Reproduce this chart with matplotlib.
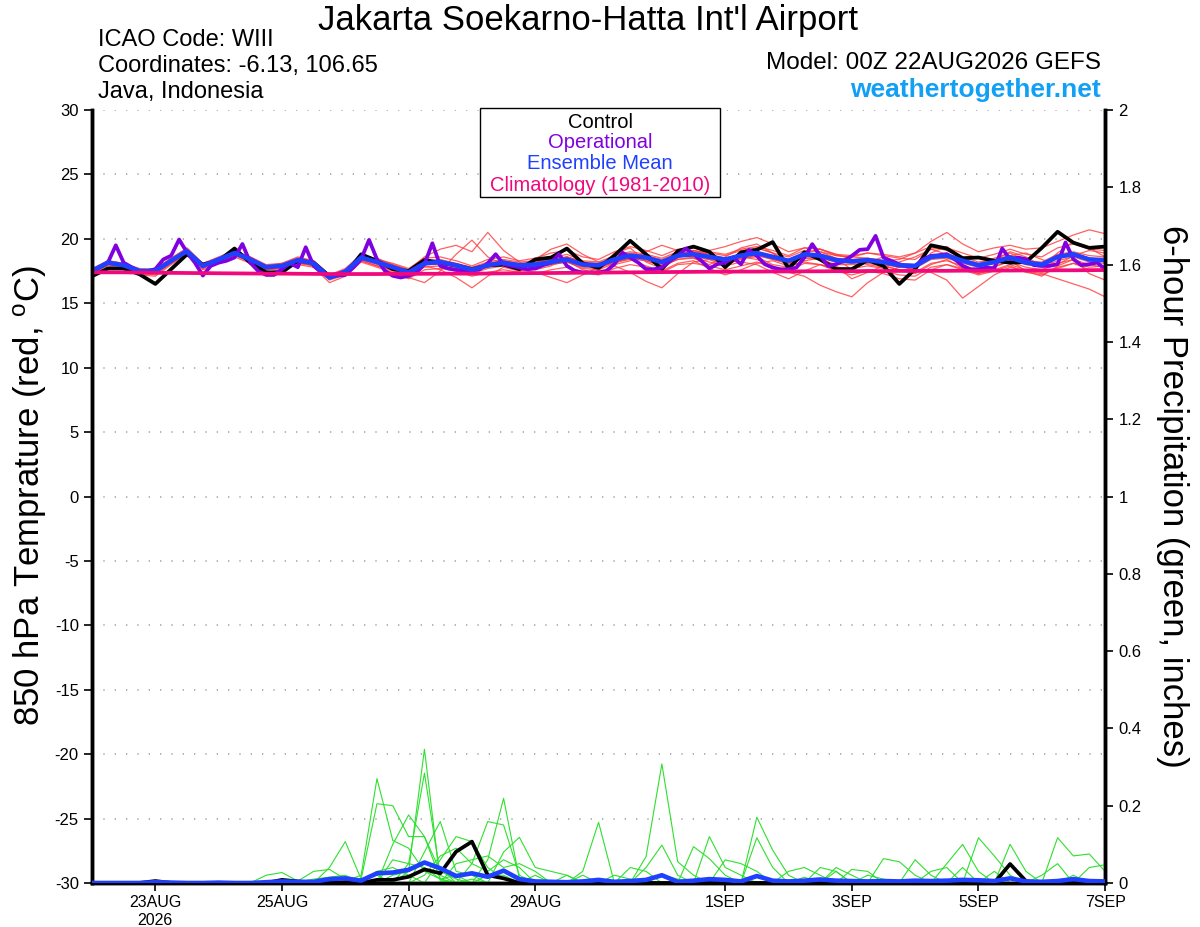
import matplotlib
matplotlib.use("Agg")
import matplotlib.pyplot as plt
from matplotlib.patches import Rectangle
from matplotlib.ticker import FuncFormatter
import numpy as np
import pandas as pd

plt.rcParams['font.family'] = ['Liberation Sans', 'DejaVu Sans']
plt.rcParams['mathtext.fontset'] = 'custom'
plt.rcParams['mathtext.rm'] = 'Liberation Sans'
plt.rcParams['mathtext.it'] = 'Liberation Sans'
plt.rcParams['axes.unicode_minus'] = False

# 6-hourly GEFS output, 22AUG2026 00Z -> 7SEP2026 00Z
times = pd.date_range('2026-08-22 00:00', periods=65, freq='6h')
# operational run is 3-hourly
op_times = pd.date_range('2026-08-22 00:00', periods=129, freq='3h')

tick_dates = ['2026-08-23', '2026-08-25', '2026-08-27', '2026-08-29',
              '2026-09-01', '2026-09-03', '2026-09-05', '2026-09-07']
tick_labels = ['23AUG\n2026', '25AUG', '27AUG', '29AUG',
               '1SEP', '3SEP', '5SEP', '7SEP']

# 850 hPa temperature (C)
control_t = [17.1, 17.7, 17.7, 17.25, 16.5, 17.65, 18.8, 18.0, 18.3, 19.25, 18.15, 17.4, 17.4,
             18.3, 18.15, 17.1, 17.25, 18.8, 18.3, 17.65, 17.5, 18.35, 18.15, 17.95, 17.65, 17.95,
             18.0, 17.65, 18.4, 18.55, 19.25, 18.1, 17.75, 18.7, 19.85, 18.8, 17.65, 19.05, 19.4,
             19.0, 17.8, 18.95, 19.15, 19.75, 17.7, 18.95, 18.4, 17.65, 17.65, 18.35, 17.9, 16.5,
             17.65, 19.5, 19.25, 18.5, 18.55, 18.3, 18.15, 18.2, 19.3, 20.55, 19.7, 19.3, 19.4]

mean_t = [17.5, 18.15, 17.95, 17.5, 17.5, 18.3, 19.05, 17.9, 18.4, 18.9, 18.4, 17.8, 17.9,
          18.35, 18.1, 17.0, 17.45, 18.55, 18.2, 17.8, 17.4, 18.1, 18.2, 17.95, 17.6, 17.95,
          18.15, 17.95, 18.0, 18.2, 18.4, 18.0, 17.95, 18.4, 18.7, 18.55, 18.2, 18.7, 18.8,
          18.6, 18.4, 18.7, 18.9, 18.6, 18.3, 18.8, 18.7, 18.35, 18.25, 18.35, 18.2, 17.95,
          17.9, 18.6, 18.7, 18.3, 17.95, 18.2, 18.55, 18.15, 18.0, 18.6, 18.8, 18.4, 18.35]

clim_t = [17.4, 17.4, 17.4, 17.38, 17.37, 17.36, 17.35, 17.34, 17.33, 17.32, 17.31, 17.3, 17.3,
          17.29, 17.28, 17.27, 17.27, 17.27, 17.27, 17.28, 17.28, 17.29, 17.29, 17.3, 17.3, 17.31,
          17.32, 17.33, 17.34, 17.35, 17.36, 17.37, 17.38, 17.39, 17.4, 17.41, 17.42, 17.43, 17.44,
          17.45, 17.45, 17.46, 17.46, 17.47, 17.47, 17.48, 17.48, 17.49, 17.49, 17.5, 17.5, 17.51,
          17.51, 17.52, 17.52, 17.53, 17.53, 17.54, 17.54, 17.55, 17.55, 17.56, 17.56, 17.57, 17.58]

oper_t = [17.4, 17.8, 18.15, 19.5, 18.15, 17.8, 17.5, 17.5, 17.65, 18.4, 18.7, 19.95, 18.95,
          18.15, 17.15, 17.9, 18.15, 18.3, 18.55, 19.6, 18.15, 17.5, 17.2, 17.2, 17.65, 18.1,
          17.8, 19.35, 17.9, 17.4, 17.0, 17.15, 17.2, 17.77, 18.42, 19.92, 18.42, 17.52, 17.13,
          17.0, 17.13, 17.39, 18.03, 19.66, 17.9, 17.7, 17.59, 17.52, 17.52, 17.64, 18.11, 18.81,
          18.03, 17.9, 17.77, 17.64, 17.7, 17.96, 18.16, 18.81, 17.9, 17.52, 17.39, 17.39, 17.39,
          17.52, 18.03, 18.94, 18.55, 18.16, 17.64, 17.64, 17.77, 18.29, 18.68, 19.25, 18.81, 18.29,
          17.7, 18.03, 18.16, 18.55, 18.03, 19.15, 18.68, 18.03, 17.77, 17.64, 17.64, 17.77, 18.55,
          19.59, 18.68, 17.9, 18.03, 18.29, 18.68, 19.15, 19.2, 20.23, 18.55, 18.29, 18.03, 17.85,
          17.9, 18.42, 18.68, 18.73, 18.81, 18.42, 17.9, 17.64, 17.64, 17.77, 17.7, 19.25, 18.42,
          18.55, 18.42, 17.96, 17.9, 17.9, 18.03, 19.72, 18.42, 17.96, 18.03, 18.16, 17.64]

members_t = [
    [17.6, 18.3, 18.1, 17.6, 17.7, 18.5, 19.3, 18.1, 18.6, 19.1, 18.6, 17.9, 18.1,
     18.6, 18.3, 17.2, 17.7, 18.8, 18.4, 18.1, 17.7, 18.5, 18.6, 18.3, 17.9, 18.4,
     18.6, 18.3, 18.5, 18.9, 19.1, 18.6, 18.4, 19.0, 19.4, 19.1, 18.7, 19.2, 19.3,
     19.0, 18.8, 19.2, 19.4, 19.1, 18.7, 19.3, 19.2, 18.8, 18.7, 18.9, 18.7, 18.5,
     18.4, 19.2, 19.3, 18.9, 18.5, 18.8, 19.2, 18.8, 18.6, 19.3, 19.6, 19.2, 19.1],
    [17.3, 17.9, 17.7, 17.2, 17.1, 18.0, 18.8, 17.6, 18.1, 18.6, 18.1, 17.4, 17.6,
     18.0, 17.8, 16.6, 17.1, 18.2, 17.8, 17.4, 16.9, 17.6, 17.7, 17.5, 17.1, 17.4,
     17.6, 17.4, 17.3, 17.6, 17.8, 17.4, 17.2, 17.7, 18.0, 17.8, 17.4, 18.0, 18.1,
     17.9, 17.6, 17.9, 18.2, 17.8, 17.5, 18.1, 18.0, 17.6, 17.4, 17.6, 17.5, 17.2,
     17.1, 17.8, 18.0, 17.6, 17.2, 17.5, 17.9, 17.4, 17.2, 17.8, 18.1, 17.6, 17.5],
    [17.5, 18.0, 18.0, 17.4, 17.4, 18.2, 19.0, 17.8, 18.3, 18.8, 18.3, 17.7, 17.8,
     18.2, 18.0, 17.0, 17.3, 18.4, 18.5, 18.0, 17.6, 18.6, 19.2, 19.5, 19.0, 20.5,
     19.1, 18.2, 17.6, 17.9, 18.6, 18.2, 17.5, 18.9, 19.3, 18.2, 17.7, 18.5, 19.1,
     18.8, 18.1, 18.4, 19.3, 18.9, 18.0, 18.6, 19.0, 18.5, 17.6, 18.2, 18.6, 17.9,
     17.6, 18.9, 19.4, 18.5, 17.8, 18.3, 19.0, 18.6, 17.9, 18.9, 19.8, 19.3, 18.6],
    [17.4, 18.1, 17.9, 17.4, 17.3, 18.1, 18.9, 17.7, 18.3, 18.8, 18.2, 17.6, 17.7,
     18.1, 18.0, 16.9, 17.4, 18.3, 17.9, 17.5, 17.2, 17.9, 17.6, 17.0, 16.2, 17.1,
     17.8, 17.5, 17.8, 18.1, 18.3, 17.6, 17.3, 17.9, 17.4, 16.7, 16.2, 17.3, 18.2,
     18.4, 17.9, 18.5, 18.6, 18.0, 17.8, 18.3, 18.5, 17.9, 16.9, 17.4, 17.9, 17.6,
     17.3, 18.0, 18.4, 17.7, 17.3, 17.8, 18.3, 17.5, 17.1, 17.9, 18.4, 17.3, 16.8],
    [17.6, 18.2, 18.0, 17.6, 17.6, 18.4, 19.2, 18.0, 18.5, 19.0, 18.5, 17.9, 18.0,
     18.5, 18.2, 17.1, 17.6, 18.7, 18.3, 17.9, 17.5, 18.2, 18.3, 18.0, 17.7, 18.0,
     18.3, 18.1, 18.2, 18.4, 18.6, 18.2, 18.1, 18.6, 18.9, 18.7, 18.4, 18.9, 19.0,
     18.7, 18.5, 18.6, 18.4, 17.9, 17.4, 17.1, 16.4, 15.9, 15.5, 16.6, 17.4, 17.8,
     18.0, 18.7, 18.9, 18.4, 18.1, 18.5, 18.9, 18.3, 18.1, 18.6, 18.9, 18.5, 18.4],
    [17.5, 18.2, 17.8, 17.5, 17.5, 18.2, 19.1, 17.9, 18.4, 18.9, 18.5, 17.8, 17.9,
     18.3, 18.2, 17.0, 17.5, 18.6, 18.1, 17.8, 17.3, 18.0, 18.1, 17.8, 17.5, 17.8,
     18.0, 17.9, 18.1, 18.2, 18.5, 17.9, 17.8, 18.3, 18.6, 18.4, 18.0, 18.6, 18.7,
     18.5, 18.2, 18.6, 18.8, 18.4, 18.1, 18.5, 18.4, 18.0, 18.0, 18.1, 17.9, 17.6,
     17.5, 17.4, 16.8, 15.4, 16.3, 17.2, 17.8, 17.5, 17.3, 16.9, 16.5, 16.1, 15.5],
    [17.7, 18.3, 18.1, 17.7, 17.6, 18.5, 19.2, 18.1, 18.5, 19.0, 18.6, 18.0, 18.1,
     18.5, 18.3, 17.2, 17.6, 18.7, 18.4, 18.0, 17.6, 18.3, 18.4, 18.1, 17.8, 18.2,
     18.4, 18.2, 18.3, 18.5, 18.8, 18.3, 18.2, 18.7, 19.0, 18.8, 18.5, 19.0, 19.1,
     18.9, 18.7, 19.1, 19.3, 18.9, 18.6, 19.1, 19.0, 18.7, 18.6, 18.9, 18.8, 18.6,
     18.9, 19.8, 20.5, 19.6, 19.0, 19.3, 19.5, 19.2, 19.3, 19.8, 20.3, 20.7, 20.4],
    [17.4, 18.0, 17.8, 17.4, 17.4, 18.2, 18.9, 17.8, 18.3, 18.8, 18.3, 17.7, 17.8,
     18.2, 17.9, 16.9, 17.3, 18.4, 18.0, 17.7, 17.4, 18.0, 18.0, 17.8, 17.5, 17.8,
     18.1, 17.8, 17.9, 18.0, 18.2, 17.8, 17.7, 18.2, 18.5, 18.3, 17.9, 18.4, 18.6,
     18.4, 18.2, 18.5, 18.7, 18.4, 18.1, 18.6, 18.5, 18.2, 18.1, 18.2, 18.0, 17.8,
     17.7, 18.4, 18.5, 18.1, 17.8, 18.1, 18.4, 18.0, 17.8, 18.3, 18.6, 18.2, 18.1],
    [17.5, 18.1, 18.0, 17.5, 17.5, 18.3, 19.0, 17.9, 18.4, 18.9, 18.4, 17.8, 17.9,
     18.3, 18.1, 17.0, 17.4, 18.5, 18.2, 17.6, 17.0, 16.6, 17.5, 18.8, 19.9, 18.6,
     18.0, 17.6, 18.4, 19.2, 19.6, 18.8, 18.2, 18.0, 18.3, 19.0, 19.5, 19.1, 18.5,
     18.0, 18.6, 19.3, 19.6, 18.9, 18.2, 18.9, 19.2, 18.8, 18.4, 18.0, 17.8, 18.2,
     18.6, 19.2, 18.8, 18.0, 17.4, 17.9, 18.7, 18.9, 18.4, 18.0, 18.7, 19.1, 18.9],
    [17.6, 18.2, 17.9, 17.5, 17.6, 18.4, 19.1, 17.9, 18.5, 19.0, 18.4, 17.8, 18.0,
     18.4, 18.1, 17.0, 17.5, 18.6, 18.2, 17.8, 17.4, 18.1, 18.2, 17.9, 17.6, 17.9,
     18.2, 18.0, 18.0, 18.2, 18.4, 18.0, 17.9, 18.4, 18.7, 18.5, 18.2, 18.7, 18.8,
     18.6, 18.4, 18.7, 18.9, 18.6, 18.3, 18.8, 18.7, 18.3, 18.2, 18.4, 18.2, 17.9,
     17.9, 18.6, 18.7, 18.3, 17.9, 18.2, 18.6, 18.1, 18.0, 18.6, 18.8, 18.4, 18.3],
    [17.3, 18.0, 17.9, 17.3, 17.2, 18.1, 18.9, 17.7, 18.2, 18.7, 18.2, 17.6, 17.7,
     18.1, 17.9, 16.8, 17.2, 18.3, 17.9, 17.6, 17.2, 17.8, 17.9, 17.7, 17.3, 17.7,
     17.9, 17.6, 17.4, 17.0, 16.6, 17.2, 17.8, 18.2, 18.4, 17.9, 17.5, 18.1, 18.3,
     17.7, 17.2, 17.6, 18.1, 18.3, 17.9, 18.2, 18.0, 17.5, 17.2, 17.5, 17.3, 16.9,
     16.8, 17.6, 18.0, 17.7, 17.3, 17.6, 18.0, 17.6, 17.4, 17.7, 18.1, 17.8, 17.9],
    [17.5, 18.1, 17.9, 17.5, 17.4, 18.3, 19.1, 17.9, 18.4, 18.9, 18.4, 17.8, 17.9,
     18.3, 18.1, 17.0, 17.4, 18.5, 18.1, 17.8, 17.4, 18.1, 18.2, 17.9, 17.6, 17.9,
     18.1, 17.9, 18.1, 18.3, 18.4, 18.0, 17.9, 18.4, 18.8, 18.5, 18.1, 18.6, 18.9,
     19.1, 19.4, 19.8, 20.1, 19.6, 19.0, 19.3, 19.2, 18.7, 18.6, 18.5, 18.3, 18.4,
     18.9, 19.4, 19.1, 18.6, 18.2, 18.4, 18.7, 18.3, 18.2, 18.8, 19.0, 18.7, 18.6],
    [17.6, 18.2, 18.0, 17.6, 17.5, 18.3, 19.0, 17.9, 18.4, 18.9, 18.5, 17.9, 17.9,
     18.4, 18.2, 17.1, 17.5, 18.6, 18.3, 17.9, 17.5, 18.2, 18.3, 18.0, 17.7, 18.1,
     18.3, 18.0, 18.2, 18.4, 18.6, 18.2, 18.0, 18.5, 18.8, 18.6, 18.3, 18.8, 19.0,
     18.8, 18.5, 18.8, 19.0, 18.7, 18.4, 18.9, 18.8, 18.5, 18.4, 18.5, 18.3, 18.1,
     18.0, 18.7, 18.8, 18.4, 18.0, 18.3, 18.7, 18.2, 18.1, 18.7, 18.9, 18.5, 18.4],
    [17.4, 18.1, 17.9, 17.4, 17.4, 18.2, 19.0, 17.8, 18.3, 18.8, 18.3, 17.7, 17.8,
     18.2, 18.0, 16.9, 17.3, 18.4, 18.1, 17.7, 17.3, 18.0, 18.1, 17.8, 17.5, 17.9,
     18.0, 17.7, 17.8, 18.0, 18.2, 17.7, 17.6, 18.1, 18.5, 18.3, 17.9, 18.4, 18.5,
     18.2, 17.9, 18.2, 18.0, 17.4, 16.9, 17.5, 18.0, 17.8, 17.7, 17.9, 17.7, 17.5,
     17.4, 18.1, 18.3, 17.9, 17.5, 17.9, 18.2, 17.8, 17.6, 18.1, 18.4, 18.0, 17.8],
]

# 6-hour precipitation (inches)
control_p = [0, 0, 0, 0, 0.005, 0, 0, 0, 0, 0, 0, 0, 0.008,
             0.004, 0, 0, 0.002, 0, 0.008, 0.008, 0.016, 0.035, 0.025, 0.081, 0.107, 0.02,
             0.012, 0, 0, 0, 0, 0, 0, 0, 0, 0, 0, 0, 0,
             0, 0, 0, 0, 0, 0, 0, 0, 0, 0, 0, 0, 0,
             0, 0, 0, 0, 0, 0, 0.049, 0.005, 0, 0, 0, 0, 0]

mean_p = [0, 0, 0, 0, 0.002, 0.001, 0, 0, 0.001, 0, 0, 0.002, 0.004,
          0.003, 0.003, 0.01, 0.012, 0.006, 0.025, 0.027, 0.034, 0.053, 0.038, 0.018, 0.025, 0.016,
          0.032, 0.01, 0.004, 0.003, 0.002, 0.004, 0.008, 0.003, 0.005, 0.008, 0.02, 0.003, 0.006,
          0.01, 0.008, 0.004, 0.018, 0.006, 0.004, 0.006, 0.009, 0.006, 0.005, 0.004, 0.005, 0.004,
          0.006, 0.005, 0.006, 0.008, 0.007, 0.005, 0.012, 0.004, 0.003, 0.005, 0.01, 0.005, 0.004]

members_p = [
    [0, 0, 0, 0, 0, 0, 0, 0, 0, 0, 0, 0, 0,
     0, 0, 0, 0.005, 0.02, 0.27, 0.11, 0.09, 0.03, 0.01, 0, 0, 0,
     0, 0, 0, 0, 0, 0.03, 0.157, 0, 0, 0, 0, 0, 0,
     0, 0, 0, 0.02, 0, 0, 0, 0, 0, 0, 0, 0, 0,
     0, 0, 0.05, 0.10, 0.03, 0, 0, 0, 0, 0, 0, 0, 0],
    [0, 0, 0, 0, 0, 0, 0, 0, 0, 0, 0, 0, 0,
     0, 0, 0, 0, 0.01, 0.205, 0.20, 0.12, 0.12, 0.03, 0.01, 0, 0,
     0, 0, 0, 0, 0, 0, 0, 0, 0, 0.068, 0.308, 0.055, 0.02,
     0, 0, 0, 0, 0, 0, 0, 0, 0, 0, 0, 0, 0,
     0, 0, 0, 0, 0, 0, 0, 0, 0, 0.117, 0.07, 0.075, 0.03],
    [0, 0, 0, 0, 0, 0, 0, 0, 0, 0, 0, 0, 0,
     0, 0, 0, 0, 0, 0, 0, 0.03, 0.346, 0.005, 0, 0.01, 0,
     0, 0, 0, 0, 0, 0, 0, 0, 0, 0, 0, 0, 0,
     0.12, 0.04, 0.02, 0, 0, 0, 0, 0, 0, 0, 0, 0.063, 0.055,
     0.02, 0, 0, 0, 0, 0, 0, 0, 0, 0, 0, 0, 0],
    [0, 0, 0, 0, 0, 0, 0, 0, 0, 0, 0, 0, 0,
     0, 0, 0, 0, 0, 0, 0, 0.05, 0.284, 0.02, 0, 0, 0.02,
     0.02, 0, 0, 0, 0, 0, 0, 0, 0, 0, 0, 0, 0,
     0, 0, 0, 0.17, 0.085, 0.02, 0, 0, 0, 0, 0, 0, 0,
     0, 0, 0, 0, 0.117, 0.07, 0.02, 0, 0, 0, 0, 0, 0],
    [0, 0, 0, 0, 0, 0, 0, 0, 0, 0, 0, 0, 0,
     0, 0, 0, 0, 0, 0, 0.10, 0.176, 0.12, 0.01, 0.02, 0, 0,
     0, 0, 0, 0, 0, 0, 0, 0, 0, 0.04, 0.098, 0.02, 0,
     0, 0, 0, 0, 0, 0, 0, 0, 0.04, 0.02, 0, 0, 0,
     0, 0, 0, 0, 0, 0, 0, 0, 0, 0, 0, 0, 0],
    [0, 0, 0, 0, 0, 0, 0, 0, 0, 0, 0, 0, 0,
     0, 0, 0, 0, 0, 0, 0, 0, 0.08, 0.159, 0.03, 0.02, 0,
     0, 0, 0, 0, 0, 0, 0, 0, 0, 0, 0, 0, 0.094,
     0.063, 0.02, 0, 0, 0, 0, 0, 0, 0, 0, 0, 0, 0,
     0, 0, 0, 0, 0, 0, 0.10, 0.03, 0, 0, 0, 0, 0],
    [0, 0, 0, 0, 0, 0, 0, 0, 0, 0, 0, 0, 0,
     0, 0, 0, 0, 0, 0, 0, 0, 0, 0.06, 0.12, 0.107, 0.04,
     0.01, 0, 0, 0, 0, 0, 0, 0, 0, 0, 0, 0, 0,
     0, 0, 0, 0.117, 0.04, 0, 0, 0.04, 0.03, 0, 0, 0, 0,
     0, 0, 0, 0, 0, 0, 0, 0, 0, 0, 0, 0.04, 0.047],
    [0, 0, 0, 0, 0, 0, 0, 0, 0, 0, 0, 0, 0,
     0, 0, 0, 0, 0, 0, 0, 0, 0, 0, 0, 0.05, 0.159,
     0.15, 0.02, 0, 0, 0, 0, 0, 0, 0, 0, 0, 0, 0,
     0, 0.06, 0.05, 0.03, 0, 0, 0, 0, 0, 0, 0, 0, 0,
     0.06, 0.02, 0, 0, 0, 0, 0, 0, 0, 0, 0, 0, 0],
    [0, 0, 0, 0, 0, 0, 0, 0, 0, 0, 0, 0, 0,
     0, 0, 0, 0, 0, 0, 0, 0, 0, 0, 0, 0, 0.06,
     0.219, 0.01, 0, 0, 0, 0, 0, 0.02, 0.01, 0, 0, 0, 0,
     0, 0, 0, 0, 0, 0, 0, 0, 0, 0.035, 0.03, 0, 0,
     0, 0, 0, 0, 0, 0, 0, 0, 0.02, 0.05, 0, 0, 0],
    [0, 0, 0, 0, 0, 0, 0, 0, 0, 0, 0, 0, 0,
     0, 0, 0, 0, 0, 0, 0, 0, 0, 0, 0, 0, 0,
     0.08, 0.118, 0.04, 0.03, 0.02, 0, 0, 0, 0, 0, 0, 0, 0,
     0, 0, 0, 0, 0, 0.03, 0.04, 0.02, 0, 0, 0, 0, 0,
     0, 0, 0, 0.04, 0, 0, 0, 0, 0, 0, 0, 0, 0],
    [0, 0, 0, 0, 0, 0, 0, 0, 0, 0, 0, 0, 0,
     0, 0, 0.04, 0.107, 0.01, 0, 0.02, 0.03, 0.05, 0.04, 0, 0, 0,
     0, 0, 0, 0, 0, 0, 0, 0, 0.04, 0.03, 0, 0, 0,
     0, 0, 0, 0, 0, 0, 0, 0, 0.03, 0, 0, 0, 0,
     0, 0, 0, 0, 0, 0, 0, 0, 0, 0, 0, 0, 0],
    [0, 0, 0, 0, 0, 0, 0, 0, 0, 0, 0, 0.02, 0.027,
     0.005, 0.03, 0.035, 0.01, 0, 0, 0.06, 0.05, 0.04, 0.01, 0, 0, 0,
     0, 0, 0.02, 0, 0.02, 0, 0, 0, 0, 0, 0, 0, 0,
     0, 0, 0, 0, 0, 0, 0, 0, 0, 0, 0, 0, 0,
     0, 0.03, 0.04, 0, 0, 0, 0, 0, 0, 0, 0, 0, 0],
    [0, 0, 0, 0, 0, 0, 0, 0, 0, 0, 0, 0, 0,
     0.002, 0.01, 0.015, 0.02, 0, 0.03, 0.04, 0.02, 0, 0, 0.05, 0.06, 0.07,
     0.04, 0.05, 0.03, 0, 0, 0.02, 0, 0, 0, 0, 0, 0, 0,
     0, 0, 0, 0, 0, 0, 0.015, 0, 0, 0, 0, 0, 0,
     0, 0, 0, 0, 0, 0.03, 0, 0, 0, 0, 0, 0, 0],
    [0, 0, 0, 0, 0.005, 0, 0, 0, 0.003, 0, 0, 0, 0,
     0, 0, 0, 0, 0.01, 0.02, 0, 0, 0.02, 0.07, 0.09, 0.05, 0.03,
     0.06, 0.04, 0, 0, 0, 0, 0, 0, 0, 0, 0.02, 0.01, 0,
     0, 0, 0, 0, 0, 0, 0, 0, 0, 0, 0.02, 0.01, 0,
     0, 0, 0, 0, 0, 0, 0, 0, 0, 0, 0.02, 0, 0],
]

RED = '#ff3a3a'
GREEN = '#2ee02e'
PURPLE = '#8000e0'
BLUE = '#2040ff'
PINK = '#f0087c'


fig = plt.figure(figsize=(12, 9.27), dpi=100)
ax = fig.add_axes([0.0767, 0.0475, 0.8442, 0.8338])
ax2 = ax.twinx()

# temperature
for m in members_t:
    ax.plot(times, m, color=RED, lw=0.9, alpha=0.8, zorder=2)
ax.plot(times, control_t, color='black', lw=2.7, zorder=4)
ax.plot(op_times, oper_t, color=PURPLE, lw=2.7, zorder=5)
ax.plot(times, mean_t, color=BLUE, lw=3.3, zorder=6)
ax.plot(times, clim_t, color=PINK, lw=2.7, zorder=7)

# precipitation
for m in members_p:
    ax2.plot(times, m, color=GREEN, lw=0.8, zorder=2)
ax2.plot(times, control_p, color='black', lw=2.7, zorder=4)
ax2.plot(times, mean_p, color=BLUE, lw=3.3, zorder=5)

ax.set_xlim(times[0], times[-1])
ax.set_ylim(-30, 30)
ax2.set_ylim(0, 2)

ax.set_yticks(np.arange(-30, 31, 5))
ax2.set_yticks(np.arange(0, 2.01, 0.2))
ax2.yaxis.set_major_formatter(FuncFormatter(lambda v, _: f'{v:g}'))
ax.set_xticks(pd.to_datetime(tick_dates))
ax.set_xticklabels(tick_labels, fontsize=11.5)

ax.tick_params(axis='y', labelsize=12, length=6, width=1.2)
ax2.tick_params(axis='y', labelsize=12, length=6, width=1.2)
ax.tick_params(axis='x', length=6, width=1.2, pad=3)

ax.yaxis.grid(True, linestyle=(0, (0.8, 6)), color='#a8a8a8', linewidth=1.2)
ax.set_axisbelow(True)

for a in (ax, ax2):
    a.spines['top'].set_visible(False)
    a.spines['left'].set_linewidth(2.5)
    a.spines['right'].set_linewidth(2.5)
    a.spines['bottom'].set_linewidth(2.5)

# axis titles placed by hand, like the original
fig.text(30 / 1200, 1 - 496 / 927, r'850 hPa Temprature (red, $^{o}$C)',
         fontsize=25, rotation=90, ha='center', va='center')
fig.text(1172 / 1200, 1 - 496 / 927, '6-hour Precipitation (green, inches)',
         fontsize=25, rotation=270, ha='center', va='center')

# legend box
ax.add_patch(Rectangle((0.383, 0.8875), 0.237, 0.115, transform=ax.transAxes,
                       facecolor='white', edgecolor='black', lw=1.0,
                       clip_on=False, zorder=9))
legend_items = [('Control', 'black', 0.9845), ('Operational', PURPLE, 0.9575),
                ('Ensemble Mean', BLUE, 0.9305),
                ('Climatology (1981-2010)', PINK, 0.9025)]
for txt, col, yy in legend_items:
    ax.text(0.5015, yy, txt, color=col, fontsize=14.5, ha='center', va='center',
            transform=ax.transAxes, zorder=10)

# header
fig.text(0.49, 0.978, "Jakarta Soekarno-Hatta Int'l Airport", fontsize=25,
         ha='center', va='center')
fig.text(0.0817, 0.957, 'ICAO Code: WIII', fontsize=17, va='center')
fig.text(0.0817, 0.929, 'Coordinates: -6.13, 106.65', fontsize=17, va='center')
fig.text(0.0817, 0.901, 'Java, Indonesia', fontsize=17, va='center')
fig.text(0.9175, 0.932, 'Model: 00Z 22AUG2026 GEFS', fontsize=17.5,
         ha='right', va='center')
fig.text(0.9175, 0.903, 'weathertogether.net', fontsize=19, fontweight='bold',
         color='#12a0f5', ha='right', va='center')

fig.savefig('out.png', dpi=100)
